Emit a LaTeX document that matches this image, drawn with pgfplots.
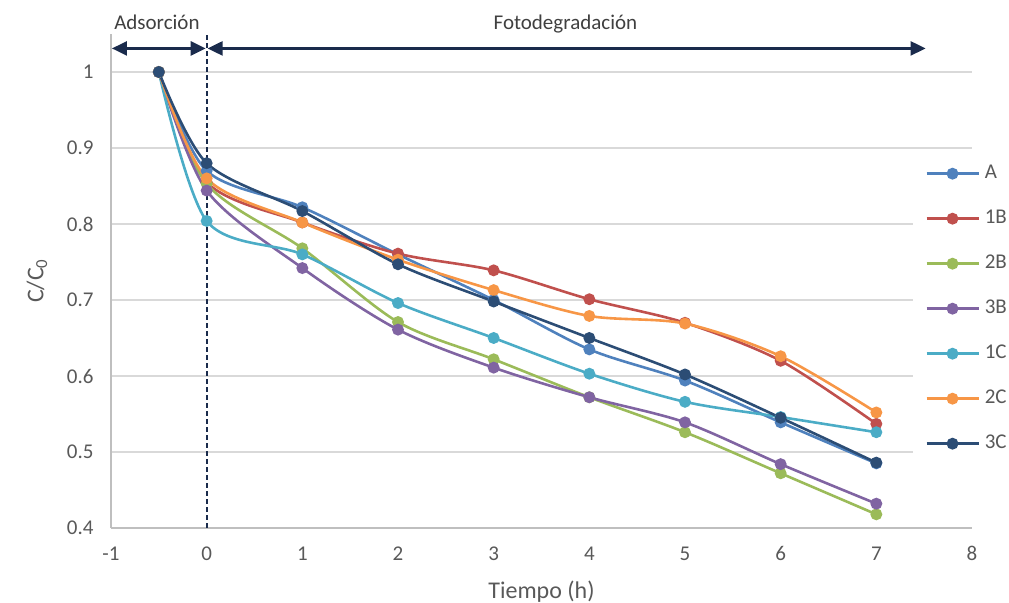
\documentclass[border=0pt]{standalone}
\usepackage{pgfplots}
\pgfplotsset{compat=1.18}
\usepackage{fontspec}
\setmainfont{Carlito}
\usetikzlibrary{arrows.meta}
\definecolor{cA}{HTML}{4F81BD}
\definecolor{cOneB}{HTML}{C0504D}
\definecolor{cTwoB}{HTML}{9BBB59}
\definecolor{cThreeB}{HTML}{8064A2}
\definecolor{cOneC}{HTML}{4BACC6}
\definecolor{cTwoC}{HTML}{F79646}
\definecolor{cThreeC}{HTML}{2C4D75}
\definecolor{navy}{HTML}{1A2B4C}
\definecolor{axisgray}{HTML}{BFBFBF}
\definecolor{gridgray}{HTML}{D9D9D9}
\definecolor{labgray}{HTML}{595959}
\definecolor{txtgray}{HTML}{404040}
\begin{document}
\begin{tikzpicture}
\begin{axis}[name=ax, scale only axis, width=861pt, height=494pt,
  xmin=-1, xmax=8, ymin=0.4, ymax=1.05,
  xtick={-1,0,1,2,3,4,5,6,7,8}, ytick={0.4,0.5,0.6,0.7,0.8,0.9,1},
  axis x line*=bottom, axis y line*=left,
  axis line style={draw=axisgray, line width=1.3pt, -},
  major tick length=0pt,
  ymajorgrids, grid style={draw=gridgray, line width=1.3pt},
  tick label style={font=\fontsize{21}{25}\selectfont, text=labgray},
  /pgf/number format/assume math mode=true,
  yticklabel style={xshift=-14pt},
  xticklabel style={yshift=-15pt},
  xlabel={Tiempo (h)}, ylabel={C/C\textsubscript{0}},
  label style={font=\fontsize{24}{28}\selectfont, text=labgray},
  xlabel style={at={(axis description cs:0.5,-0.129)}, anchor=center},
  ylabel style={at={(axis description cs:-0.086,0.5)}, anchor=center},
  clip=false,
  legend style={draw=none, fill=white, at={(axis description cs:0.9315,0.747)}, anchor=north west,
    inner xsep=12pt, inner ysep=6pt, row sep=28pt, column sep=5pt,
    nodes={inner sep=0pt, text height=13pt, text depth=4pt, font=\fontsize{21}{25}\selectfont, text=labgray}},
  legend cell align=left,
  legend image code/.code={\draw[mark repeat=2,mark phase=2] plot coordinates {(0pt,0pt)(26pt,0pt)(52pt,0pt)};},
  every axis plot/.append style={line width=2.6pt, mark=*, mark size=4.6pt, smooth, mark options={solid}},
]
\addplot[color=cA] coordinates {(-0.5,1) (0,0.870) (1,0.822) (2,0.760) (3,0.700) (4,0.635) (5,0.594) (6,0.539) (7,0.485)};
\addlegendentry{A}
\addplot[color=cOneB] coordinates {(-0.5,1) (0,0.855) (1,0.802) (2,0.761) (3,0.739) (4,0.701) (5,0.670) (6,0.620) (7,0.537)};
\addlegendentry{1B}
\addplot[color=cTwoB] coordinates {(-0.5,1) (0,0.853) (1,0.768) (2,0.671) (3,0.622) (4,0.572) (5,0.526) (6,0.472) (7,0.418)};
\addlegendentry{2B}
\addplot[color=cThreeB] coordinates {(-0.5,1) (0,0.844) (1,0.742) (2,0.661) (3,0.611) (4,0.572) (5,0.539) (6,0.484) (7,0.432)};
\addlegendentry{3B}
\addplot[color=cOneC] coordinates {(-0.5,1) (0,0.804) (1,0.760) (2,0.696) (3,0.650) (4,0.603) (5,0.566) (6,0.546) (7,0.526)};
\addlegendentry{1C}
\addplot[color=cTwoC] coordinates {(-0.5,1) (0,0.860) (1,0.802) (2,0.753) (3,0.713) (4,0.679) (5,0.669) (6,0.626) (7,0.552)};
\addlegendentry{2C}
\addplot[color=cThreeC] coordinates {(-0.5,1) (0,0.880) (1,0.817) (2,0.747) (3,0.698) (4,0.650) (5,0.602) (6,0.545) (7,0.486)};
\addlegendentry{3C}
\draw[navy, line width=2pt, dash pattern=on 5pt off 3pt] (axis cs:0,0.4) -- (axis cs:0,1.05);
\draw[navy, line width=2.5pt, {Triangle[length=15pt,width=14pt]}-{Triangle[length=15pt,width=14pt]}] (axis cs:-0.99,1.031) -- (axis cs:-0.01,1.031);
\draw[navy, line width=2.5pt, {Triangle[length=15pt,width=14pt]}-{Triangle[length=15pt,width=14pt]}] (axis cs:0.01,1.031) -- (axis cs:7.515,1.031);
\node[font=\fontsize{21}{25}\selectfont, text=txtgray] at (axis cs:-0.52,1.065) {Adsorción};
\node[font=\fontsize{21}{25}\selectfont, text=txtgray] at (axis cs:3.75,1.063) {Fotodegradación};
\end{axis}
\pgfresetboundingbox
\path[use as bounding box] ([shift={(-111pt,-75pt)}]ax.south west) rectangle ([shift={(37pt,34pt)}]ax.north east);
\end{tikzpicture}
\end{document}
